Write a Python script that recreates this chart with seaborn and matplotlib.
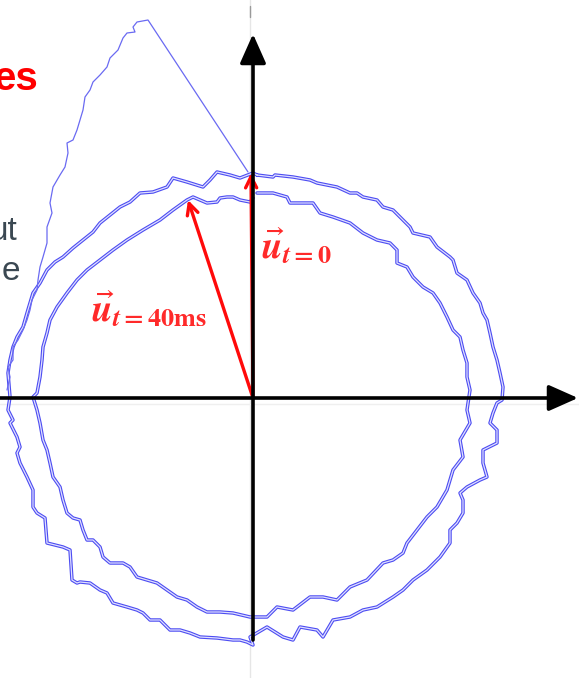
import matplotlib
matplotlib.use("Agg")
import matplotlib.pyplot as plt
import matplotlib.patheffects as pe
import seaborn as sns

# Space-vector trajectory (alpha/beta components, arbitrary units)
# outer loop, starting at the top and running clockwise
outer_alpha = [0.04, 0.20, 0.22, 0.40, 0.57, 0.64, 0.84, 0.97, 1.04, 1.10, 1.24, 1.30, 1.40, 1.50,
               1.57, 1.60, 1.77, 1.84, 1.97, 2.00, 2.04, 2.14, 2.20, 2.27, 2.30, 2.34, 2.37, 2.40,
               2.44, 2.47, 2.50, 2.49,
               2.44, 2.40, 2.37, 2.44, 2.44, 2.30, 2.30, 2.34, 2.27, 2.14, 2.07, 2.10, 2.10, 2.04,
               1.97, 1.97, 1.87, 1.74, 1.60, 1.50, 1.40, 1.24, 1.10, 0.97, 0.80, 0.70, 0.64, 0.47,
               0.40, 0.30, 0.14, -0.03,
               0.00, -0.06, -0.13, -0.20, -0.36, -0.53, -0.63, -0.73, -0.83, -0.93, -1.03, -1.10,
               -1.16, -1.26, -1.40, -1.46, -1.53, -1.63, -1.73, -1.76, -1.81, -1.83, -1.90, -2.06,
               -2.08, -2.16, -2.20, -2.20, -2.26, -2.33, -2.36, -2.33, -2.36, -2.43, -2.40, -2.45,
               -2.43,
               -2.45, -2.43, -2.40, -2.36, -2.30, -2.26, -2.23, -2.20, -2.13, -2.06, -1.98, -1.90,
               -1.80, -1.70, -1.60, -1.53, -1.43, -1.33, -1.23, -1.13, -1.00, -0.86, -0.80, -0.66,
               -0.50, -0.43, -0.36, -0.23, -0.13, 0.00, 0.04]
outer_beta = [2.23, 2.21, 2.23, 2.21, 2.18, 2.15, 2.11, 2.05, 2.05, 2.01, 1.98, 1.91, 1.88, 1.78,
              1.71, 1.65, 1.61, 1.51, 1.41, 1.38, 1.25, 1.18, 1.05, 0.95, 0.85, 0.78, 0.65, 0.51,
              0.38, 0.25, 0.11, -0.02,
              -0.05, -0.15, -0.25, -0.32, -0.45, -0.52, -0.65, -0.79, -0.82, -0.89, -0.95, -1.02,
              -1.15, -1.25, -1.32, -1.45, -1.59, -1.72, -1.82, -1.92, -1.99, -2.09, -2.12, -2.19,
              -2.22, -2.39, -2.32, -2.29, -2.42, -2.39, -2.29, -2.39,
              -2.47, -2.44, -2.42, -2.42, -2.40, -2.39, -2.35, -2.32, -2.32, -2.22, -2.22, -2.15,
              -2.12, -2.09, -2.05, -1.95, -1.92, -1.85, -1.84, -1.85, -1.82, -1.52, -1.49, -1.45,
              -1.20, -1.15, -1.09, -0.92, -0.79, -0.65, -0.55, -0.49, -0.39, -0.25, -0.22, -0.12,
              0.01,
              0.25, 0.38, 0.51, 0.61, 0.71, 0.85, 0.95, 1.05, 1.15, 1.28, 1.36, 1.41,
              1.50, 1.58, 1.66, 1.75, 1.83, 1.91, 1.96, 2.05, 2.06, 2.11, 2.20, 2.16,
              2.11, 2.18, 2.26, 2.23, 2.20, 2.25, 2.23]

# inner loop (second cycle, reduced amplitude)
inner_alpha = [0.04, 0.20, 0.34, 0.37, 0.60, 0.67, 0.80, 0.97, 1.10, 1.24, 1.37, 1.44, 1.44, 1.54,
               1.60, 1.70, 1.80, 1.87, 1.94, 2.00, 2.07, 2.10, 2.14, 2.14, 2.17,
               2.14, 2.17, 2.07, 2.10, 2.00, 1.97, 1.94, 1.84, 1.74, 1.64, 1.54, 1.50, 1.40, 1.30,
               1.14, 0.97, 0.84, 0.70, 0.57, 0.40, 0.24, 0.14, -0.03,
               -0.20, -0.33, -0.46, -0.56, -0.66, -0.76, -0.86, -0.96, -1.06, -1.16, -1.23, -1.30,
               -1.43, -1.50, -1.53, -1.60, -1.66, -1.70, -1.73, -1.80, -1.86, -1.90, -1.93, -2.00,
               -2.03, -2.06, -2.10, -2.13, -2.16, -2.20,
               -2.16, -2.13, -2.11, -2.10, -2.06, -2.03, -1.96, -1.86, -1.76, -1.66, -1.53, -1.40,
               -1.26, -1.10, -0.93, -0.80, -0.66, -0.60, -0.53, -0.46, -0.36, -0.33, -0.26, -0.20,
               -0.13, -0.03, 0.00]
inner_beta = [2.05, 2.05, 2.01, 1.95, 1.95, 1.85, 1.81, 1.75, 1.65, 1.58, 1.55, 1.48, 1.35, 1.31,
              1.21, 1.11, 1.05, 0.95, 0.81, 0.68, 0.61, 0.48, 0.35, 0.21, 0.08,
              -0.12, -0.25, -0.42, -0.59, -0.72, -0.82, -0.92, -1.09, -1.19, -1.32, -1.45, -1.55,
              -1.62, -1.65, -1.82, -1.89, -2.02, -1.99, -1.99, -2.12, -2.09, -2.19, -2.19,
              -2.15, -2.14, -2.14, -2.09, -2.02, -1.99, -1.92, -1.85, -1.82, -1.79, -1.69, -1.65,
              -1.65, -1.59, -1.49, -1.42, -1.42, -1.32, -1.22, -1.20, -1.15, -1.02, -0.89, -0.79,
              -0.65, -0.52, -0.42, -0.25, -0.12, 0.01,
              0.05, 0.21, 0.38, 0.51, 0.65, 0.78, 0.91, 1.05, 1.18, 1.28, 1.38, 1.48,
              1.58, 1.68, 1.78, 1.88, 1.98, 2.01, 1.98, 1.95, 1.96, 2.00, 2.01, 2.01,
              1.98, 1.96, 2.00]

# start-up transient: jump from t=0 to the peak, then slide down the left side
transient_alpha = [-0.05, -1.05, -1.16, -1.20, -1.18, -1.26, -1.30, -1.35, -1.38, -1.43, -1.46,
                   -1.53, -1.60, -1.63, -1.68, -1.70, -1.73, -1.76, -1.80, -1.86, -1.85, -1.88,
                   -1.93, -2.00, -2.03, -2.01, -2.06, -2.06, -2.10, -2.13, -2.15, -2.16, -2.21,
                   -2.23, -2.26, -2.30, -2.35, -2.40, -2.40, -2.45, -2.43, -2.46]
transient_beta = [2.26, 3.78, 3.76, 3.71, 3.66, 3.65, 3.60, 3.48, 3.45, 3.40, 3.31,
                  3.23, 3.16, 3.08, 3.01, 2.88, 2.78, 2.68, 2.58, 2.55, 2.45, 2.31,
                  2.23, 2.11, 1.95, 1.85, 1.71, 1.55, 1.41, 1.31, 1.18, 1.08, 0.98,
                  0.88, 0.78, 0.68, 0.58, 0.51, 0.38, 0.31, 0.21, 0.08]

# voltage vectors
vec_labels = [r"$\vec{\boldsymbol{u}}_{\boldsymbol{t}\mathbf{=0}}$",
              r"$\vec{\boldsymbol{u}}_{\boldsymbol{t}\mathbf{=40ms}}$"]
vec_alpha = [-0.02, -0.65]
vec_beta = [2.25, 1.98]

# slide text fragments cut off at the left edge
title_fragment = "es"
body_fragments = ["ut", "e"]

sns.set_style("white")
plt.rcParams["mathtext.fontset"] = "stix"
plt.rcParams["font.family"] = ["Liberation Sans", "DejaVu Sans"]

fig = plt.figure(figsize=(5.79, 6.78), dpi=100)
ax = fig.add_axes([0, 0, 1, 1])
ax.set_xlim(-2.53, 3.26)
ax.set_ylim(-2.80, 3.98)
ax.set_aspect("equal")
ax.axis("off")

# faint zero lines of the underlying scope plot
ax.axvline(-0.03, color="#e6e6e6", lw=1.0, zorder=0)
ax.axhline(-0.06, color="#efefef", lw=1.0, zorder=0)
ax.plot([-0.03, -0.03], [3.81, 3.92], color="#9a9a9a", lw=1.0, zorder=0)

hollow = [pe.Stroke(linewidth=2.5, foreground="#4c4cf2"), pe.Normal()]
sns.lineplot(x=outer_alpha, y=outer_beta, sort=False, estimator=None, ax=ax,
             color="#e0e0ff", lw=0.9, path_effects=hollow, zorder=2)
sns.lineplot(x=inner_alpha, y=inner_beta, sort=False, estimator=None, ax=ax,
             color="#e0e0ff", lw=0.9, path_effects=hollow, zorder=2)
sns.lineplot(x=transient_alpha, y=transient_beta, sort=False, estimator=None, ax=ax,
             color="#6a6af2", lw=0.9, zorder=2)

# coordinate axes with arrow heads
axis_style = dict(arrowstyle="-|>,head_length=18,head_width=8", color="black", lw=2.6,
                  shrinkA=0, shrinkB=0, mutation_scale=1)
ax.annotate("", xy=(3.25, 0), xytext=(-2.53, 0), arrowprops=axis_style, zorder=4)
ax.annotate("", xy=(0, 3.64), xytext=(0, -2.42), arrowprops=axis_style, zorder=4)

# red voltage vectors
vec_style = dict(arrowstyle="->,head_length=8,head_width=4", color="#ff0a0a", lw=2.4,
                 shrinkA=0, shrinkB=0, mutation_scale=1)
for a, b in zip(vec_alpha, vec_beta):
    ax.annotate("", xy=(a, b), xytext=(0, 0), arrowprops=vec_style, zorder=3)

ax.text(0.08, 1.51, vec_labels[0], color="#ff2a2a", fontsize=27, va="center", ha="left")
ax.text(-1.62, 0.88, vec_labels[1], color="#ff2a2a", fontsize=27, va="center", ha="left")

fig.text(38 / 579, 1 - 90 / 678, title_fragment, color="#ff0000", fontsize=29,
         fontweight="bold", ha="right", va="baseline")
fig.text(18 / 579, 1 - 240 / 678, body_fragments[0], color="#3b4852", fontsize=24,
         ha="right", va="baseline")
fig.text(20 / 579, 1 - 280 / 678, body_fragments[1], color="#3b4852", fontsize=24,
         ha="right", va="baseline")

fig.savefig("out.png", dpi=100)
